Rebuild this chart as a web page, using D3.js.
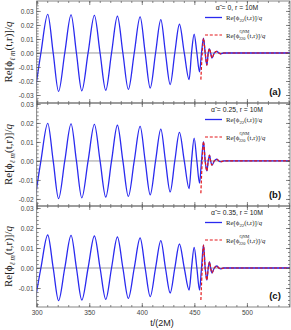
<!DOCTYPE html>
<html><head><meta charset="utf-8">
<script src="https://cdn.jsdelivr.net/npm/d3@7"></script>
<style>body{margin:0;background:#fff}svg{display:block}</style>
</head><body>
<script>
// ---- data ----
const keyTimes = [298.5, 304, 310.5, 315.7, 320.8, 326.7, 332.7, 337.8, 342.9, 348.9, 354.9, 360.3, 365.7, 371.2, 376.8, 382, 387.2, 392.8, 398.4, 403.2, 408, 413.1, 418.1, 422.5, 427, 431.4, 435.8, 440.4, 445, 447.3, 449.8, 452.4, 454.9, 456.8, 458.7, 460.3, 461.9, 463.2, 464.4, 465.5, 466.7, 469, 471.4, 473.3, 475.2, 478, 541];
const blueA = [-0.0275, 0, 0.0275, 0, -0.0274, 0, 0.0272, 0, -0.0270, 0, 0.0268, 0, -0.0266, 0, 0.0262, 0, -0.0260, 0, 0.0257, 0, -0.0250, 0, 0.0238, 0, -0.0225, 0, 0.0205, 0, -0.0190, 0, 0.0135, 0, -0.0135, 0, 0.0105, 0, -0.0086, 0, 0.0030, 0, -0.0036, 0, 0.0012, 0, -0.0006, 0, 0];
const blueB = [-0.0198, 0, 0.0198, 0, -0.0198, 0, 0.0195, 0, -0.0194, 0, 0.0192, 0, -0.0190, 0, 0.0188, 0, -0.0186, 0, 0.0182, 0, -0.0178, 0, 0.0168, 0, -0.0163, 0, 0.0150, 0, -0.0145, 0, 0.0120, 0, -0.0117, 0, 0.0102, 0, -0.0052, 0, 0.0030, 0, -0.0022, 0, 0.0009, 0, -0.0004, 0, 0];
const blueC = [-0.0163, 0, 0.0165, 0, -0.0163, 0, 0.0163, 0, -0.0160, 0, 0.0160, 0, -0.0157, 0, 0.0155, 0, -0.0152, 0, 0.0150, 0, -0.0143, 0, 0.0137, 0, -0.0125, 0, 0.0120, 0, -0.0110, 0, 0.0103, 0, -0.0110, 0, 0.0115, 0, -0.0060, 0, 0.0030, 0, -0.0025, 0, 0.0010, 0, -0.0004, 0, 0];
const qnmTimes = [456.2, 457.5, 458.7, 460.3, 461.9, 463.2, 464.4, 465.5, 466.7, 469, 471.4, 473.3, 475.2, 478, 541];
const qnmA = [-0.019, 0, 0.0105, 0, -0.0086, 0, 0.0030, 0, -0.0036, 0, 0.0012, 0, -0.0006, 0, 0];
const qnmB = [-0.017, 0, 0.0102, 0, -0.0052, 0, 0.0030, 0, -0.0022, 0, 0.0009, 0, -0.0004, 0, 0];
const qnmC = [-0.016, 0, 0.0115, 0, -0.0060, 0, 0.0030, 0, -0.0025, 0, 0.0010, 0, -0.0004, 0, 0];
const xDomain = [300, 541];
const xTicks = [300, 350, 400, 450, 500];
const yDomainA = [-0.0357, 0.0371];
const yDomainB = [-0.0237, 0.0305];
const yDomainC = [-0.0195, 0.031];
const yTicksA = [-0.03, -0.02, -0.01, 0, 0.01, 0.02, 0.03];
const yTicksB = [-0.02, -0.01, 0, 0.01, 0.02, 0.03];
const yTicksC = [-0.01, 0, 0.01, 0.02, 0.03];
const alphaLabels = ["0", "0.25", "0.35"];
const panelTags = ["(a)", "(b)", "(c)"];

// ---- drawing ----
const BLUE = "#2a2aef", RED = "#e4191c";
const svg = d3.select("body").append("svg").attr("width", 291).attr("height", 330);
const x = d3.scaleLinear().domain(xDomain).range([36.7, 290]);
const boxes = [[1, 103], [103, 206], [206, 307]];
const panels = [
  {blue: blueA, qnm: qnmA, dom: yDomainA, ticks: yTicksA},
  {blue: blueB, qnm: qnmB, dom: yDomainB, ticks: yTicksB},
  {blue: blueC, qnm: qnmC, dom: yDomainC, ticks: yTicksC}
];
const fmt = v => d3.format(".2f")(v).replace("\u2212", "-");
const xMinor = d3.range(300, 541, 10);

panels.forEach((p, i) => {
  const [top, bot] = boxes[i];
  const y = d3.scaleLinear().domain(p.dom).range([bot, top]);
  const [xl, xr] = x.range();
  const clipId = "clip" + i;
  svg.append("clipPath").attr("id", clipId).append("rect")
    .attr("x", xl).attr("y", top).attr("width", xr - xl).attr("height", bot - top);
  const plot = svg.append("g").attr("clip-path", `url(#${clipId})`);
  plot.append("line").attr("x1", xl).attr("x2", xr).attr("y1", y(0)).attr("y2", y(0))
    .attr("stroke", "#9a9a9a").attr("stroke-width", 1);
  const line = d3.line().x(d => x(d[0])).y(d => y(d[1])).curve(d3.curveMonotoneX);
  plot.append("path").datum(d3.zip(keyTimes, p.blue)).attr("d", line)
    .attr("fill", "none").attr("stroke", BLUE).attr("stroke-width", 1.3);
  plot.append("path").datum(d3.zip(qnmTimes, p.qnm)).attr("d", line)
    .attr("fill", "none").attr("stroke", RED).attr("stroke-width", 1.2).attr("stroke-dasharray", "3,1.8");

  const yMinor = d3.range(Math.ceil(p.dom[0] / 0.002), Math.floor(p.dom[1] / 0.002) + 1).map(k => k * 0.002);
  const styleAxis = g => {
    g.select(".domain").remove();
    g.selectAll("line").attr("stroke", "#555").attr("stroke-width", 0.7);
    g.selectAll("text").attr("fill", "#444").attr("font-family", "Liberation Sans, Arial, sans-serif").attr("font-size", 6.6);
  };
  svg.append("g").attr("transform", `translate(${xl},0)`)
    .call(d3.axisLeft(y).tickValues(yMinor).tickSize(-2).tickFormat("")).call(styleAxis);
  svg.append("g").attr("transform", `translate(${xr},0)`)
    .call(d3.axisRight(y).tickValues(yMinor).tickSize(-2).tickFormat("")).call(styleAxis);
  svg.append("g").attr("transform", `translate(${xl},0)`)
    .call(d3.axisLeft(y).tickValues(p.ticks).tickSize(-4).tickPadding(3).tickFormat(fmt)).call(styleAxis);
  svg.append("g").attr("transform", `translate(${xr},0)`)
    .call(d3.axisRight(y).tickValues(p.ticks).tickSize(-4).tickFormat("")).call(styleAxis);
  svg.append("g").attr("transform", `translate(0,${top})`)
    .call(d3.axisTop(x).tickValues(xMinor).tickSize(-2).tickFormat("")).call(styleAxis);
  svg.append("g").attr("transform", `translate(0,${top})`)
    .call(d3.axisTop(x).tickValues(xTicks).tickSize(-4).tickFormat("")).call(styleAxis);
  svg.append("g").attr("transform", `translate(0,${bot})`)
    .call(d3.axisBottom(x).tickValues(xMinor).tickSize(-2).tickFormat("")).call(styleAxis);
  svg.append("g").attr("transform", `translate(0,${bot})`)
    .call(d3.axisBottom(x).tickValues(xTicks).tickSize(-4).tickPadding(3)
      .tickFormat(i === 2 ? d3.format("d") : "")).call(styleAxis);

  svg.append("rect").attr("x", xl).attr("y", top).attr("width", xr - xl).attr("height", bot - top)
    .attr("fill", "none").attr("stroke", "#666").attr("stroke-width", 0.8);

  const yt = svg.append("text")
    .attr("transform", `translate(12,${(top + bot) / 2}) rotate(-90)`)
    .attr("text-anchor", "middle").attr("font-family", "Liberation Serif, Times New Roman, serif")
    .attr("font-size", 11).attr("fill", "#222");
  yt.append("tspan").text("Re[\u03D5");
  yt.append("tspan").attr("font-size", 7.5).attr("dy", 2.5).attr("font-style", "italic").text("\u2113 m");
  yt.append("tspan").attr("dy", -2.5).text("(t,r)]/");
  yt.append("tspan").attr("font-style", "italic").text("q");

  svg.append("text").attr("x", 237).attr("y", top + 8.5).attr("text-anchor", "middle")
    .attr("font-family", "Liberation Sans, Arial, sans-serif").attr("font-size", 6.8).attr("fill", "#222")
    .text(`\u03B1\u0303 = ${alphaLabels[i]}, r = 10M`);
  svg.append("line").attr("x1", 205).attr("x2", 222).attr("y1", top + 16.5).attr("y2", top + 16.5)
    .attr("stroke", BLUE).attr("stroke-width", 1.3);
  const t1 = svg.append("text").attr("x", 226).attr("y", top + 19)
    .attr("font-family", "Liberation Serif, Times New Roman, serif").attr("font-size", 6.8).attr("fill", "#222");
  t1.append("tspan").text("Re[\u03D5");
  t1.append("tspan").attr("font-size", 4.8).attr("dy", 1.5).text("22");
  t1.append("tspan").attr("dy", -1.5).text("(t,r)]/");
  t1.append("tspan").attr("font-style", "italic").text("q");

  svg.append("line").attr("x1", 205).attr("x2", 222).attr("y1", top + 34).attr("y2", top + 34)
    .attr("stroke", RED).attr("stroke-width", 1.2).attr("stroke-dasharray", "3,1.8");
  const t2 = svg.append("text").attr("x", 226).attr("y", top + 36.5)
    .attr("font-family", "Liberation Serif, Times New Roman, serif").attr("font-size", 6.8).attr("fill", "#222");
  t2.append("tspan").text("Re[\u03D5");
  const sup = t2.append("tspan").attr("font-size", 4.3).attr("dy", -5).text("QNM");
  const w = sup.node().getComputedTextLength();
  t2.append("tspan").attr("font-size", 4.3).attr("dx", -w - 0.5).attr("dy", 7.8).text("220");
  t2.append("tspan").attr("dx", 2).attr("dy", -2.8).text("(t,r)]/");
  t2.append("tspan").attr("font-style", "italic").text("q");

  svg.append("text").attr("x", 275).attr("y", bot - 8).attr("text-anchor", "middle")
    .attr("font-family", "Liberation Sans, Arial, sans-serif").attr("font-weight", "bold")
    .attr("font-size", 9.5).attr("fill", "#111").text(panelTags[i]);
});

svg.append("text").attr("x", 162).attr("y", 326).attr("text-anchor", "middle")
  .attr("font-family", "Liberation Sans, Arial, sans-serif").attr("font-size", 9).attr("fill", "#222")
  .text("t/(2M)");
</script>
</body></html>
